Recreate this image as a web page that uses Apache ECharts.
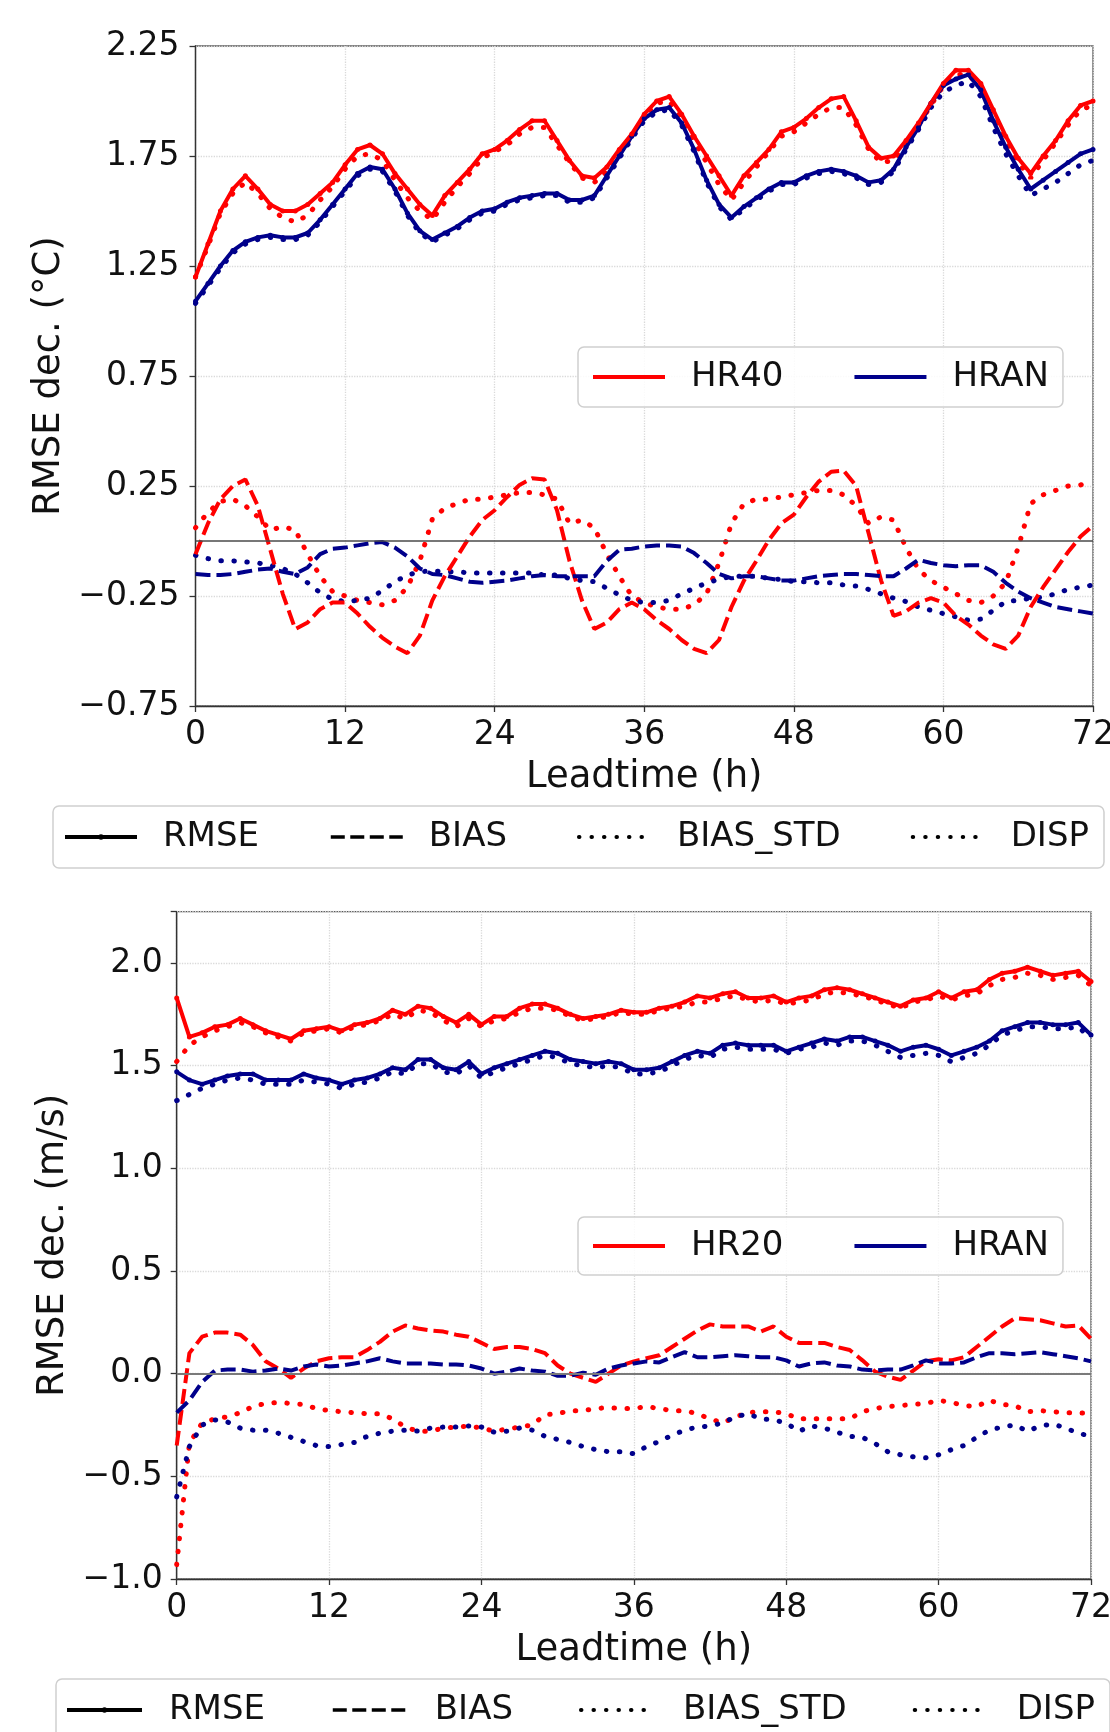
<!DOCTYPE html>
<html><head><meta charset="utf-8">
<script src="https://cdn.jsdelivr.net/npm/echarts@6/dist/echarts.min.js"></script>
<style>html,body{margin:0;padding:0;background:#fff}#c{width:1110px;height:1732px}</style>
</head><body><div id="c"></div><script>
// ---------- DATA ----------
const hours = [0,1,2,3,4,5,6,7,8,9,10,11,12,13,14,15,16,17,18,19,20,21,22,23,24,25,26,27,28,29,30,31,32,33,34,35,36,37,38,39,40,41,42,43,44,45,46,47,48,49,50,51,52,53,54,55,56,57,58,59,60,61,62,63,64,65,66,67,68,69,70,71,72];
const xTickLabels = ['0','12','24','36','48','60','72'];
const yTickValsTop = [-0.75,-0.25,0.25,0.75,1.25,1.75,2.25];
const yTickLabelsTop = ['\u22120.75','\u22120.25','0.25','0.75','1.25','1.75','2.25'];
const yTickValsBot = [-1.0,-0.5,0.0,0.5,1.0,1.5,2.0];
const yTickLabelsBot = ['\u22121.0','\u22120.5','0.0','0.5','1.0','1.5','2.0'];

// Top panel (temperature): HR40 (red) vs HRAN (blue)
const topHR40_RMSE = [1.20,1.35,1.50,1.60,1.66,1.60,1.53,1.50,1.50,1.53,1.58,1.63,1.71,1.78,1.80,1.76,1.67,1.60,1.53,1.48,1.57,1.63,1.69,1.76,1.78,1.82,1.87,1.91,1.91,1.82,1.73,1.66,1.65,1.70,1.78,1.85,1.94,2.00,2.02,1.94,1.84,1.75,1.66,1.57,1.66,1.72,1.78,1.86,1.88,1.92,1.97,2.01,2.02,1.91,1.79,1.74,1.75,1.82,1.90,1.99,2.08,2.14,2.14,2.08,1.96,1.84,1.74,1.67,1.75,1.82,1.91,1.98,2.00];
const topHR40_BIAS_STD = [1.20,1.34,1.49,1.58,1.63,1.58,1.51,1.47,1.45,1.48,1.55,1.61,1.69,1.75,1.76,1.73,1.64,1.56,1.50,1.46,1.54,1.61,1.67,1.74,1.77,1.80,1.85,1.88,1.88,1.80,1.72,1.65,1.63,1.68,1.76,1.84,1.93,1.99,2.00,1.92,1.82,1.72,1.62,1.55,1.63,1.70,1.77,1.84,1.86,1.90,1.94,1.97,1.97,1.89,1.78,1.72,1.73,1.80,1.89,1.98,2.07,2.12,2.12,2.06,1.94,1.82,1.72,1.65,1.73,1.81,1.89,1.96,1.98];
const topHR40_BIAS = [-0.06,0.08,0.19,0.25,0.28,0.16,-0.04,-0.24,-0.40,-0.37,-0.31,-0.28,-0.28,-0.33,-0.39,-0.44,-0.48,-0.51,-0.43,-0.27,-0.16,-0.07,0.02,0.095,0.14,0.20,0.255,0.285,0.28,0.14,-0.09,-0.27,-0.40,-0.37,-0.31,-0.28,-0.31,-0.36,-0.40,-0.45,-0.49,-0.51,-0.45,-0.30,-0.18,-0.09,0.005,0.08,0.12,0.20,0.27,0.315,0.32,0.25,0.035,-0.18,-0.34,-0.32,-0.28,-0.26,-0.28,-0.34,-0.38,-0.43,-0.47,-0.49,-0.43,-0.30,-0.21,-0.13,-0.05,0.02,0.07];
const topHR40_DISP = [0.06,0.13,0.18,0.19,0.16,0.11,0.05,0.065,0.05,-0.06,-0.16,-0.23,-0.25,-0.27,-0.28,-0.29,-0.27,-0.21,-0.09,0.10,0.15,0.17,0.19,0.19,0.20,0.21,0.22,0.22,0.21,0.19,0.08,0.095,0.06,-0.06,-0.16,-0.25,-0.28,-0.30,-0.31,-0.31,-0.29,-0.24,-0.10,0.08,0.17,0.19,0.19,0.20,0.21,0.22,0.23,0.23,0.21,0.16,0.08,0.11,0.095,-0.03,-0.13,-0.18,-0.21,-0.24,-0.27,-0.28,-0.25,-0.19,-0.03,0.17,0.21,0.23,0.25,0.255,0.27];
const topHRAN_RMSE = [1.09,1.17,1.25,1.32,1.36,1.38,1.39,1.38,1.38,1.40,1.46,1.53,1.60,1.67,1.70,1.69,1.60,1.49,1.41,1.37,1.40,1.43,1.47,1.50,1.51,1.54,1.56,1.57,1.58,1.58,1.55,1.55,1.57,1.66,1.75,1.84,1.92,1.96,1.97,1.90,1.78,1.64,1.53,1.47,1.52,1.56,1.60,1.63,1.63,1.66,1.68,1.69,1.68,1.66,1.63,1.64,1.69,1.79,1.88,1.99,2.07,2.10,2.12,2.05,1.91,1.79,1.69,1.60,1.64,1.68,1.72,1.76,1.78];
const topHRAN_BIAS_STD = [1.08,1.16,1.24,1.31,1.35,1.37,1.38,1.37,1.37,1.39,1.45,1.52,1.59,1.66,1.69,1.68,1.59,1.48,1.40,1.36,1.39,1.42,1.46,1.49,1.50,1.53,1.55,1.56,1.57,1.57,1.54,1.54,1.56,1.65,1.74,1.83,1.91,1.95,1.96,1.89,1.77,1.63,1.52,1.46,1.51,1.55,1.59,1.62,1.62,1.65,1.67,1.68,1.67,1.65,1.62,1.63,1.68,1.78,1.87,1.97,2.04,2.07,2.09,2.02,1.88,1.76,1.66,1.57,1.60,1.63,1.67,1.71,1.73];
const topHRAN_BIAS = [-0.15,-0.155,-0.155,-0.15,-0.14,-0.13,-0.125,-0.14,-0.15,-0.12,-0.06,-0.035,-0.03,-0.02,-0.01,-0.005,-0.03,-0.07,-0.125,-0.15,-0.155,-0.17,-0.185,-0.19,-0.185,-0.18,-0.17,-0.16,-0.155,-0.16,-0.16,-0.16,-0.16,-0.09,-0.04,-0.035,-0.025,-0.02,-0.02,-0.025,-0.055,-0.10,-0.15,-0.17,-0.16,-0.16,-0.17,-0.18,-0.18,-0.17,-0.16,-0.155,-0.15,-0.15,-0.155,-0.16,-0.16,-0.125,-0.085,-0.10,-0.11,-0.115,-0.11,-0.11,-0.14,-0.19,-0.23,-0.26,-0.28,-0.30,-0.31,-0.32,-0.33];
const topHRAN_DISP = [-0.065,-0.08,-0.09,-0.09,-0.095,-0.10,-0.11,-0.125,-0.15,-0.19,-0.235,-0.265,-0.275,-0.27,-0.26,-0.225,-0.185,-0.155,-0.14,-0.135,-0.14,-0.14,-0.145,-0.145,-0.145,-0.145,-0.145,-0.145,-0.155,-0.155,-0.17,-0.18,-0.185,-0.215,-0.245,-0.27,-0.28,-0.28,-0.27,-0.24,-0.215,-0.19,-0.175,-0.16,-0.16,-0.16,-0.17,-0.175,-0.185,-0.185,-0.19,-0.19,-0.20,-0.205,-0.22,-0.24,-0.26,-0.275,-0.30,-0.315,-0.33,-0.345,-0.36,-0.355,-0.315,-0.275,-0.27,-0.26,-0.255,-0.24,-0.22,-0.21,-0.20];

// Bottom panel (wind): HR20 (red) vs HRAN (blue)
const botHR20_RMSE = [1.83,1.64,1.66,1.69,1.70,1.73,1.70,1.67,1.65,1.63,1.67,1.68,1.69,1.67,1.70,1.71,1.73,1.77,1.75,1.79,1.78,1.74,1.71,1.75,1.70,1.74,1.74,1.78,1.80,1.80,1.78,1.75,1.73,1.74,1.75,1.77,1.76,1.76,1.78,1.79,1.81,1.84,1.83,1.85,1.86,1.83,1.83,1.84,1.81,1.83,1.84,1.87,1.88,1.87,1.85,1.83,1.81,1.79,1.82,1.83,1.86,1.83,1.86,1.87,1.92,1.95,1.96,1.98,1.96,1.94,1.95,1.96,1.91];
const botHR20_BIAS_STD = [1.52,1.60,1.64,1.67,1.69,1.71,1.69,1.66,1.64,1.62,1.66,1.67,1.68,1.66,1.69,1.70,1.72,1.75,1.73,1.77,1.76,1.72,1.69,1.73,1.69,1.72,1.73,1.76,1.78,1.78,1.77,1.74,1.72,1.73,1.74,1.76,1.75,1.75,1.77,1.78,1.79,1.81,1.81,1.83,1.84,1.82,1.81,1.82,1.80,1.81,1.82,1.85,1.86,1.85,1.84,1.82,1.80,1.78,1.81,1.82,1.84,1.82,1.84,1.85,1.89,1.92,1.93,1.95,1.94,1.92,1.93,1.94,1.89];
const botHR20_BIAS = [-0.35,0.10,0.18,0.20,0.20,0.19,0.14,0.06,0.025,-0.02,0.025,0.06,0.075,0.08,0.08,0.115,0.155,0.205,0.235,0.22,0.21,0.205,0.19,0.18,0.15,0.12,0.13,0.13,0.12,0.10,0.04,0.0,-0.02,-0.04,0.0,0.04,0.06,0.075,0.09,0.13,0.17,0.21,0.24,0.23,0.23,0.23,0.205,0.23,0.18,0.15,0.15,0.15,0.13,0.115,0.065,0.01,-0.015,-0.03,0.015,0.06,0.07,0.065,0.08,0.13,0.18,0.23,0.27,0.265,0.26,0.245,0.23,0.235,0.17];
const botHR20_DISP = [-0.93,-0.34,-0.24,-0.22,-0.21,-0.19,-0.16,-0.145,-0.14,-0.145,-0.15,-0.17,-0.18,-0.185,-0.19,-0.195,-0.195,-0.22,-0.26,-0.28,-0.28,-0.265,-0.26,-0.255,-0.265,-0.28,-0.27,-0.26,-0.25,-0.20,-0.195,-0.18,-0.18,-0.17,-0.165,-0.17,-0.17,-0.16,-0.17,-0.18,-0.18,-0.195,-0.22,-0.24,-0.21,-0.19,-0.185,-0.185,-0.195,-0.22,-0.22,-0.22,-0.22,-0.22,-0.185,-0.17,-0.16,-0.155,-0.15,-0.145,-0.13,-0.14,-0.155,-0.16,-0.13,-0.15,-0.155,-0.185,-0.18,-0.185,-0.19,-0.19,-0.195];
const botHRAN_RMSE = [1.47,1.43,1.41,1.43,1.45,1.46,1.46,1.43,1.43,1.43,1.46,1.44,1.43,1.41,1.43,1.44,1.46,1.49,1.48,1.53,1.53,1.49,1.48,1.52,1.46,1.49,1.51,1.53,1.55,1.57,1.56,1.53,1.52,1.51,1.52,1.51,1.48,1.48,1.49,1.52,1.55,1.57,1.56,1.60,1.61,1.60,1.60,1.60,1.57,1.59,1.61,1.63,1.62,1.64,1.64,1.62,1.60,1.57,1.59,1.60,1.58,1.55,1.57,1.59,1.62,1.67,1.69,1.71,1.71,1.70,1.70,1.71,1.65];
const botHRAN_BIAS_STD = [1.33,1.36,1.39,1.41,1.43,1.44,1.43,1.41,1.41,1.41,1.43,1.42,1.41,1.39,1.41,1.42,1.44,1.47,1.46,1.51,1.51,1.47,1.46,1.50,1.44,1.47,1.49,1.51,1.53,1.55,1.54,1.51,1.50,1.49,1.50,1.49,1.46,1.46,1.47,1.50,1.53,1.55,1.54,1.58,1.59,1.58,1.58,1.58,1.56,1.58,1.59,1.61,1.60,1.62,1.62,1.60,1.57,1.54,1.55,1.56,1.55,1.52,1.54,1.56,1.60,1.65,1.67,1.69,1.69,1.68,1.68,1.69,1.63];
const botHRAN_BIAS = [-0.19,-0.13,-0.04,0.015,0.02,0.02,0.01,0.015,0.025,0.015,0.035,0.045,0.035,0.04,0.05,0.06,0.075,0.06,0.05,0.05,0.05,0.045,0.045,0.04,0.025,0.0,0.01,0.025,0.015,0.01,-0.01,-0.01,0.005,-0.005,0.025,0.04,0.05,0.06,0.055,0.08,0.105,0.08,0.08,0.085,0.09,0.085,0.08,0.08,0.065,0.035,0.05,0.055,0.04,0.035,0.02,0.015,0.02,0.02,0.04,0.065,0.05,0.05,0.055,0.08,0.10,0.10,0.095,0.10,0.105,0.095,0.085,0.075,0.06];
const botHRAN_DISP = [-0.60,-0.355,-0.25,-0.225,-0.235,-0.265,-0.275,-0.275,-0.29,-0.31,-0.33,-0.35,-0.355,-0.345,-0.335,-0.305,-0.29,-0.28,-0.275,-0.28,-0.265,-0.26,-0.26,-0.255,-0.26,-0.285,-0.28,-0.265,-0.275,-0.305,-0.32,-0.335,-0.355,-0.37,-0.38,-0.38,-0.39,-0.355,-0.33,-0.30,-0.275,-0.26,-0.255,-0.24,-0.21,-0.195,-0.22,-0.225,-0.24,-0.28,-0.255,-0.265,-0.285,-0.305,-0.31,-0.34,-0.38,-0.395,-0.405,-0.41,-0.395,-0.37,-0.35,-0.31,-0.275,-0.26,-0.25,-0.28,-0.255,-0.245,-0.265,-0.29,-0.305];

// ---------- STYLE ----------
const FONT = 'DejaVu Sans';
const RED = '#ff0000', BLUE = '#00008b', TXT = '#111111';
const solidStyle = c => ({color: c, width: 4, type: 'solid'});
const dashedStyle = c => ({color: c, width: 4, type: [15, 6], cap: 'butt'});
const dottedStyle = c => ({color: c, width: 5, type: [0.5, 12.5], cap: 'round'});

function pairs(arr) { return hours.map((h, i) => [h, arr[i]]); }
function labelFor(v, vals, labs) {
  for (let i = 0; i < vals.length; i++) if (Math.abs(v - vals[i]) < 1e-6) return labs[i];
  return '';
}
function xLabel(v) {
  const s = String(Math.round(v));
  return xTickLabels.indexOf(s) >= 0 ? s : '';
}
function lineSeries(name, arr, g, color, kind, extra) {
  const style = kind === 'rmse' ? solidStyle(color) : kind === 'bias' ? dashedStyle(color) : dottedStyle(color);
  return Object.assign({
    name, type: 'line', xAxisIndex: g, yAxisIndex: g, data: pairs(arr),
    symbol: kind === 'rmse' ? 'circle' : 'none', showSymbol: kind === 'rmse', symbolSize: 5,
    itemStyle: {color}, lineStyle: style, silent: true, animation: false,
    z: kind === 'rmse' ? 5 : 3
  }, extra || {});
}
const zeroLineTop = {
  silent: true, symbol: ['none', 'none'], label: {show: false},
  lineStyle: {color: '#4a4a4a', width: 1.5, type: 'solid'}, data: [{yAxis: 0}], animation: false
};
const zeroLineBot = {
  silent: true, symbol: ['none', 'none'], label: {show: false},
  lineStyle: {color: '#7a7a7a', width: 2, type: 'solid'}, data: [{yAxis: 0}], animation: false
};

function xAxisOpt(g) {
  return {
    gridIndex: g, type: 'value', min: 0, max: 72, interval: 12,
    name: 'Leadtime (h)', nameLocation: 'middle', nameGap: 53,
    nameTextStyle: {fontSize: 37, color: TXT, fontFamily: FONT},
    axisLine: {show: true, onZero: false, lineStyle: {color: '#333', width: 1.3}},
    axisTick: {show: true, inside: false, length: 6, lineStyle: {color: '#333', width: 1.3}},
    axisLabel: {fontSize: 33, color: TXT, fontFamily: FONT, margin: 13, formatter: xLabel},
    splitLine: {show: true, lineStyle: {color: '#d9d9d9', type: 'dotted', width: 1.3}}
  };
}
function yAxisOpt(g, min, max, name, gap, margin, vals, labs) {
  return {
    gridIndex: g, type: 'value', min, max, interval: 0.5,
    name, nameLocation: 'middle', nameGap: gap,
    nameTextStyle: {fontSize: 37, color: TXT, fontFamily: FONT},
    axisLine: {show: true, onZero: false, lineStyle: {color: '#333', width: 1.3}},
    axisTick: {show: true, inside: false, length: 6, lineStyle: {color: '#333', width: 1.3}},
    axisLabel: {fontSize: 33, color: TXT, fontFamily: FONT, margin, formatter: v => labelFor(v, vals, labs)},
    splitLine: {show: true, lineStyle: {color: '#d9d9d9', type: 'dotted', width: 1.3}}
  };
}
function legendOpt(left, top, names, itemWidth, itemGap, padding, textPad) {
  return {
    left, top, width: 1080, orient: 'horizontal', selectedMode: false,
    itemWidth, itemHeight: 7, itemGap, padding,
    backgroundColor: 'rgba(255,255,255,0.85)', borderColor: '#cfcfcf', borderWidth: 1.5, borderRadius: 6,
    textStyle: {fontSize: 34, color: TXT, fontFamily: FONT, padding: [0, 0, 0, textPad]},
    data: names.map(n => {
      if (n === 'RMSE') return {name: n, lineStyle: {width: 4, color: '#000', type: 'solid'}};
      if (n === 'BIAS') return {name: n, itemStyle: {opacity: 0}, lineStyle: {width: 3.5, color: '#000', type: [14, 5.5]}};
      if (n === 'BIAS_STD' || n === 'DISP') return {name: n, itemStyle: {opacity: 0}, lineStyle: {width: 4, color: '#000', type: [0.5, 12], cap: 'round'}};
      return {name: n, itemStyle: {opacity: 0}, lineStyle: {width: 4, type: 'solid'}};
    })
  };
}
function dummy(name, color, kind) {
  const style = kind === 'rmse' ? solidStyle(color) : kind === 'bias' ? dashedStyle(color) : dottedStyle(color);
  return {name, type: 'line', xAxisIndex: 0, yAxisIndex: 0, data: [], symbol: kind === 'rmse' ? 'circle' : 'none',
    itemStyle: {color}, lineStyle: style, silent: true, animation: false};
}

const series = [
  lineSeries('HR40 DISP', topHR40_DISP, 0, RED, 'dot'),
  lineSeries('HRAN DISP', topHRAN_DISP, 0, BLUE, 'dot'),
  lineSeries('HR40 BIAS', topHR40_BIAS, 0, RED, 'bias', {markLine: zeroLineTop}),
  lineSeries('HRAN BIAS', topHRAN_BIAS, 0, BLUE, 'bias'),
  lineSeries('HR40 BIAS_STD', topHR40_BIAS_STD, 0, RED, 'dot'),
  lineSeries('HRAN BIAS_STD', topHRAN_BIAS_STD, 0, BLUE, 'dot'),
  lineSeries('HRAN RMSE', topHRAN_RMSE, 0, BLUE, 'rmse'),
  lineSeries('HR40 RMSE', topHR40_RMSE, 0, RED, 'rmse'),

  lineSeries('HR20 DISP', botHR20_DISP, 1, RED, 'dot'),
  lineSeries('HRAN DISP b', botHRAN_DISP, 1, BLUE, 'dot'),
  lineSeries('HR20 BIAS', botHR20_BIAS, 1, RED, 'bias', {markLine: zeroLineBot}),
  lineSeries('HRAN BIAS b', botHRAN_BIAS, 1, BLUE, 'bias'),
  lineSeries('HR20 BIAS_STD', botHR20_BIAS_STD, 1, RED, 'dot'),
  lineSeries('HRAN BIAS_STD b', botHRAN_BIAS_STD, 1, BLUE, 'dot'),
  lineSeries('HRAN RMSE b', botHRAN_RMSE, 1, BLUE, 'rmse'),
  lineSeries('HR20 RMSE', botHR20_RMSE, 1, RED, 'rmse'),

  dummy('HR40', RED, 'rmse'), dummy('HR20', RED, 'rmse'), dummy('HRAN', BLUE, 'rmse'),
  dummy('RMSE', '#000', 'rmse'), dummy('BIAS', '#000', 'bias'),
  dummy('BIAS_STD', '#000', 'dot'), dummy('DISP', '#000', 'dot')
];

const chart = echarts.init(document.getElementById('c'), null, {renderer: 'canvas', width: 1110, height: 1732});
chart.setOption({
  animation: false,
  backgroundColor: '#ffffff',
  textStyle: {fontFamily: FONT},
  grid: [
    {left: 195.5, top: 46, right: 17, height: 660, show: true, borderColor: '#555', borderWidth: 1.3, backgroundColor: 'transparent', containLabel: false, outerBoundsMode: 'none'},
    {left: 176.7, top: 911.7, right: 19, height: 667.3, show: true, borderColor: '#555', borderWidth: 1.3, backgroundColor: 'transparent', containLabel: false, outerBoundsMode: 'none'}
  ],
  xAxis: [xAxisOpt(0), xAxisOpt(1)],
  yAxis: [
    yAxisOpt(0, -0.75, 2.25, 'RMSE dec. (\u00B0C)', 122, 16, yTickValsTop, yTickLabelsTop),
    yAxisOpt(1, -1.0, 2.25, 'RMSE dec. (m/s)', 100, 14, yTickValsBot, yTickLabelsBot)
  ],
  legend: [
    legendOpt(578, 347, ['HR40', 'HRAN'], 72, 69, [13, 14, 13, 13], 21),
    legendOpt(53, 806, ['RMSE', 'BIAS', 'BIAS_STD', 'DISP'], 72, 70, [14, 15, 14, 10], 21),
    legendOpt(578, 1217, ['HR20', 'HRAN'], 72, 69, [12, 14, 12, 13], 21),
    legendOpt(56, 1679, ['RMSE', 'BIAS', 'BIAS_STD', 'DISP'], 75, 66, [14, 15, 14, 9], 22)
  ],
  series
});
</script></body></html>
